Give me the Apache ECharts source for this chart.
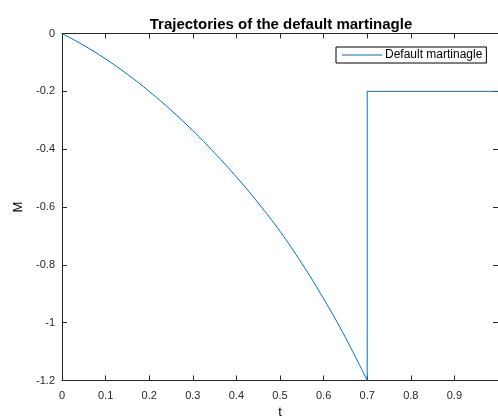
<!DOCTYPE html>
<html>
<head>
<meta charset="utf-8">
<script src="https://cdn.jsdelivr.net/npm/echarts@6/dist/echarts.min.js"></script>
<style>html,body{margin:0;padding:0;background:#fff;}#c{width:498px;height:420px;}</style>
</head>
<body>
<div id="c"></div>
<script>
// smooth pre-default part of the trajectory
var tCurve = [0, 0.05, 0.1, 0.15, 0.2, 0.25, 0.3, 0.35, 0.4, 0.45, 0.5, 0.55, 0.6, 0.65, 0.7];
var mCurve = [0, -0.041, -0.088, -0.141, -0.2, -0.265, -0.336, -0.413, -0.496, -0.586, -0.684, -0.795, -0.917, -1.051, -1.2];
// jump at default time and flat part afterwards
var tJump = [0.7, 0.7, 1.0];
var mJump = [-1.2, -0.2, -0.2];
var seriesName = 'Default martinagle';
var titleText = 'Trajectories of the default martinagle';
var xTicks = [0, 0.1, 0.2, 0.3, 0.4, 0.5, 0.6, 0.7, 0.8, 0.9, 1];
var yTicks = [-1.2, -1, -0.8, -0.6, -0.4, -0.2, 0];

var font = 'Liberation Sans, Arial, Helvetica, sans-serif';
var axisCol = '#262626';
var lineCol = '#0072BD';
var curveData = tCurve.map(function (t, i) { return [t, mCurve[i]]; });
var jumpData = tJump.map(function (t, i) { return [t, mJump[i]]; });

var chart = echarts.init(document.getElementById('c'), null, {renderer: 'canvas'});
var baseAxis = {
  axisLine: {show: true, onZero: false, lineStyle: {color: axisCol, width: 1}},
  axisTick: {show: true, inside: true, length: 5, lineStyle: {color: axisCol, width: 1}},
  splitLine: {show: false}
};
chart.setOption({
  animation: false,
  backgroundColor: '#fff',
  title: {
    text: titleText, left: 276, top: 12, textAlign: 'center',
    textStyle: {fontFamily: font, fontSize: 15, fontWeight: 'bold', color: '#000'}
  },
  legend: {
    data: [seriesName], left: 336, top: 47, orient: 'vertical',
    icon: 'rect', itemWidth: 40, itemHeight: 1.2, itemGap: 0,
    padding: [2, 4, 2, 6], borderColor: '#000', borderWidth: 1, backgroundColor: '#fff',
    textStyle: {fontFamily: font, fontSize: 12, color: '#000', padding: [0, 0, 0, -2]}
  },
  grid: {left: 62, top: 33.5, width: 436, height: 347, containLabel: false, outerBoundsMode: 'none'},
  xAxis: [
    Object.assign({}, baseAxis, {
      type: 'value', min: 0, max: 1, interval: 0.1, position: 'bottom',
      name: 't', nameLocation: 'middle', nameGap: 25,
      nameTextStyle: {fontFamily: font, fontSize: 13, color: '#000', verticalAlign: 'top', padding: [0, 0, 0, 0]},
      axisLabel: {margin: 10, fontFamily: font, fontSize: 11, color: axisCol, showMaxLabel: false,
        formatter: function (v) { return v >= 1 ? '' : String(+v.toFixed(1)); }}
    }),
    Object.assign({}, baseAxis, {
      type: 'value', min: 0, max: 1, interval: 0.1, position: 'top', axisLabel: {show: false}
    })
  ],
  yAxis: [
    Object.assign({}, baseAxis, {
      type: 'value', min: -1.2, max: 0, interval: 0.2, position: 'left',
      name: 'M', nameLocation: 'middle', nameGap: 36, nameRotate: 90,
      nameTextStyle: {fontFamily: font, fontSize: 13, color: '#000'},
      axisLabel: {margin: 7, fontFamily: font, fontSize: 11, color: axisCol,
        formatter: function (v) { return String(+v.toFixed(1)); }}
    }),
    Object.assign({}, baseAxis, {
      type: 'value', min: -1.2, max: 0, interval: 0.2, position: 'right', axisLabel: {show: false}
    })
  ],
  series: [{
    name: seriesName, type: 'line', data: curveData, showSymbol: false, symbol: 'none',
    smooth: 0.4,
    lineStyle: {color: lineCol, width: 1}, itemStyle: {color: lineCol}, clip: false
  }, {
    name: seriesName, type: 'line', data: jumpData, showSymbol: false, symbol: 'none',
    lineStyle: {color: lineCol, width: 1}, itemStyle: {color: lineCol}, clip: false
  }]
});
</script>
</body>
</html>
